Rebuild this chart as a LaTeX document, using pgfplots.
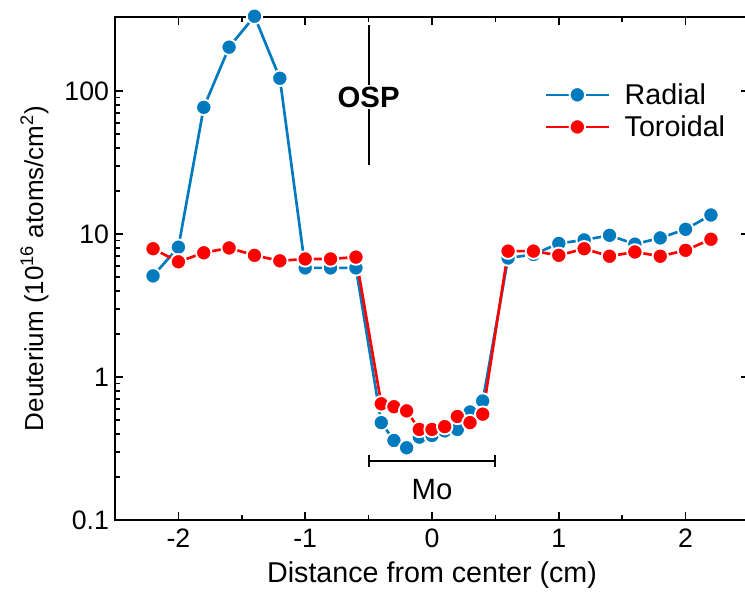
\documentclass[border=0pt]{standalone}
\usepackage{fontspec}
\setmainfont{Liberation Sans}
\usepackage{pgfplots}
\pgfplotsset{compat=1.18}
\definecolor{radblue}{RGB}{0,122,190}
\definecolor{torred}{RGB}{255,0,0}

\begin{document}
\begin{tikzpicture}
\begin{axis}[
    name=main,
    scale only axis,
    width=475.5pt,
    height=377.25pt,
    ymode=log,
    xmin=-2.5, xmax=2.5,
    ymin=0.1, ymax=330,
    xtick={-2,-1,0,1,2},
    minor xtick={-2.5,-1.5,-0.5,0.5,1.5,2.5},
    ytick={0.1,1,10,100},
    yticklabels={0.1,1,10,100},
    xtick pos=both,
    ytick pos=left,
    tick align=inside,
    major tick length=6pt,
    minor tick length=3.5pt,
    every tick/.style={black, line width=1.2pt},
    axis line style={line width=1.5pt},
    clip=false,
    /pgf/number format/assume math mode=true,
    tick label style={font=\fontsize{20}{24}\selectfont},
    xticklabel style={yshift=-3pt},
    yticklabel style={xshift=-1pt},
    xlabel={Distance from center (cm)},
    ylabel={Deuterium (10\textsuperscript{16} atoms/cm\textsuperscript{2})},
    xlabel style={font=\fontsize{21.5}{26}\selectfont, at={(axis description cs:0.5,-0.11)}, anchor=center},
    ylabel style={font=\fontsize{19.5}{24}\selectfont, at={(axis description cs:-0.127,0.5)}, anchor=center},
    legend style={draw=none, fill=none, at={(axis description cs:0.671,0.879)}, anchor=north west,
        font=\fontsize{21.5}{26}\selectfont, row sep=3pt, cells={anchor=west},
        /tikz/every odd column/.append style={column sep=9pt}},
    legend image code/.code={
        \draw[mark repeat=2,mark phase=2,#1] plot coordinates {(0pt,0pt) (23.5pt,0pt) (47pt,0pt)};
    },
]
\addplot[radblue, line width=2pt, mark=*, mark size=5.8pt,
    mark options={fill=radblue, draw=white, line width=1.4pt}]
    coordinates {
    (-2.2,5.1) (-2.0,8.1) (-1.8,77) (-1.6,203) (-1.4,334) (-1.2,123)
    (-1.0,5.8) (-0.8,5.8) (-0.6,5.8)
    (-0.4,0.48) (-0.3,0.36) (-0.2,0.32) (-0.1,0.38) (0,0.39) (0.1,0.42)
    (0.2,0.43) (0.3,0.57) (0.4,0.68)
    (0.6,6.8) (0.8,7.2) (1.0,8.6) (1.2,9.1) (1.4,9.8) (1.6,8.5) (1.8,9.4)
    (2.0,10.8) (2.2,13.6)
    };
\addlegendentry{Radial}
\addplot[torred, line width=2pt, mark=*, mark size=5.8pt,
    mark options={fill=torred, draw=white, line width=1.4pt}]
    coordinates {
    (-2.2,7.9) (-2.0,6.4) (-1.8,7.4) (-1.6,8.0) (-1.4,7.1) (-1.2,6.5)
    (-1.0,6.7) (-0.8,6.7) (-0.6,6.9)
    (-0.4,0.65) (-0.3,0.62) (-0.2,0.58) (-0.1,0.43) (0,0.43) (0.1,0.45)
    (0.2,0.53) (0.3,0.48) (0.4,0.55)
    (0.6,7.6) (0.8,7.6) (1.0,7.1) (1.2,7.9) (1.4,7.0) (1.6,7.5) (1.8,7.0)
    (2.0,7.7) (2.2,9.2)
    };
\addlegendentry{Toroidal}
% OSP marker
\draw[black, line width=1.5pt] (axis cs:-0.5,290) -- (axis cs:-0.5,30.4);
\node[fill=white, inner sep=1pt, font=\bfseries\fontsize{22}{26}\selectfont]
    at (axis cs:-0.5,90.8) {OSP};
% Mo bracket
\draw[black, line width=1.5pt] (axis cs:-0.5,0.259) -- (axis cs:0.5,0.259);
\draw[black, line width=1.5pt] (axis cs:-0.5,0.285) -- (axis cs:-0.5,0.235);
\draw[black, line width=1.5pt] (axis cs:0.5,0.285) -- (axis cs:0.5,0.235);
\node[font=\fontsize{22}{26}\selectfont] at (axis cs:0,0.162) {Mo};
\end{axis}
\begin{axis}[
    at={(main.south west)}, anchor=south west,
    scale only axis,
    width=475.5pt,
    height=377.25pt,
    ymode=log,
    xmin=-2.5, xmax=2.5,
    ymin=0.1, ymax=330,
    axis x line=none,
    axis y line*=right,
    ytick={0.1,1,10,100},
    yticklabels={},
    yminorticks=false,
    tick align=inside,
    major tick length=6pt,
    every tick/.style={black, line width=1.2pt},
    axis line style={line width=1.5pt},
]
\end{axis}
% page matches the reference crop (right axis line falls just outside)
\pgfresetboundingbox
\path[use as bounding box] ([shift={(-86.25pt,-64.5pt)}]main.south west)
    rectangle ([shift={(472.5pt,390pt)}]main.south west);
\end{tikzpicture}
\end{document}
